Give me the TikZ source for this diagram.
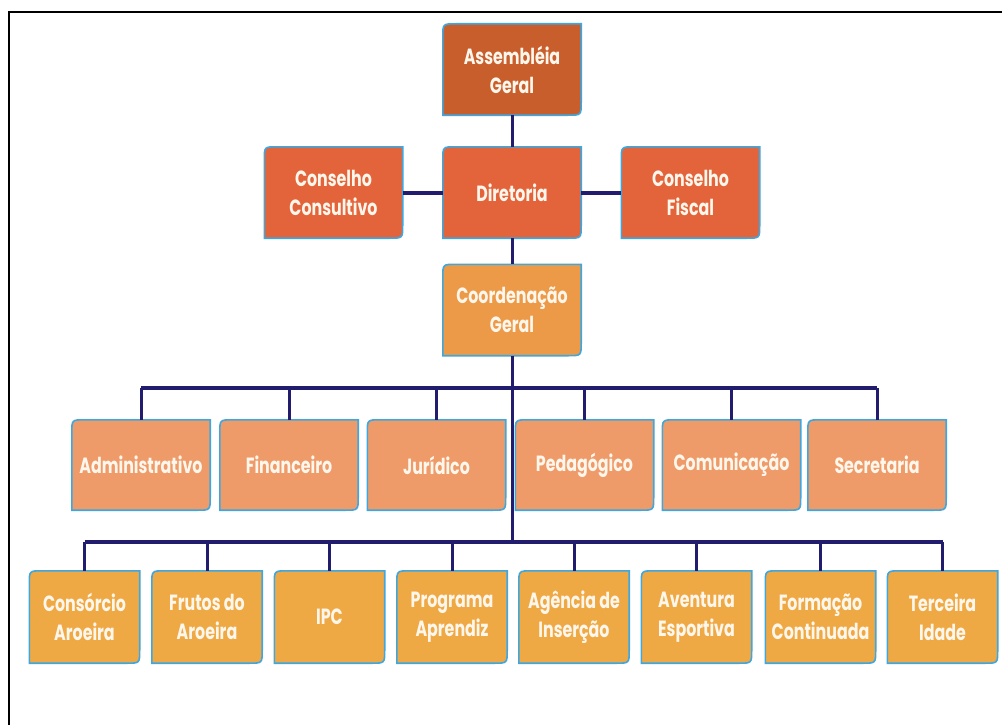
\documentclass[tikz,border=0pt]{standalone}
\usepackage{fontspec}
\newfontfamily\boxfont[FakeStretch=0.72]{Poppins}
\usetikzlibrary{calc}
\pgfdeclarelayer{background}
\pgfsetlayers{background,main}
\definecolor{cDark}{HTML}{C95E2D}
\definecolor{cRed}{HTML}{E3643A}
\definecolor{cOrange}{HTML}{EC9A47}
\definecolor{cSalmon}{HTML}{EE9B69}
\definecolor{cYellow}{HTML}{EFA944}
\definecolor{cEdge}{HTML}{3FA6DE}
\definecolor{cLine}{HTML}{221C6E}
\definecolor{cText}{HTML}{FFF6EC}
\tikzset{
  x=1pt, y=-1pt,
  orgtext/.style={inner sep=0pt, align=center, text=cText,
    font=\boxfont\bfseries\fontsize{22}{29}\selectfont},
  big/.style={orgtext, minimum width=138pt, minimum height=91pt},
  mid/.style={orgtext, minimum width=138pt, minimum height=90pt},
  small/.style={orgtext, minimum width=110pt, minimum height=92pt},
  conn/.style={draw=cLine, line width=3pt},
  bus/.style={draw=cLine, line width=4pt},
  frame/.style={draw=black, line width=2pt}
}
\newcommand{\boxbg}[2]{%
  \begin{pgfonlayer}{background}
  \filldraw[fill=#2, draw=cEdge, line width=1.6pt]
    ($(#1.north west)+(13,0)$) -- (#1.north east) -- ($(#1.south east)+(0,-13)$)
    .. controls (#1.south east) .. ($(#1.south east)+(-13,0)$)
    -- (#1.south west) -- ($(#1.north west)+(0,13)$)
    .. controls (#1.north west) .. ($(#1.north west)+(13,0)$) -- cycle;
  \end{pgfonlayer}}
\begin{document}
\begin{tikzpicture}
\useasboundingbox (0,0) rectangle (1002,725);
\begin{pgfonlayer}{background}
\fill[white] (0,0) rectangle (1002,725);
\end{pgfonlayer}
\draw[frame] (9,725) -- (9,12) -- (1002,12);

% level 1
\node[big] (ag) at (512,69.5) {Assembléia\\Geral};
\node[big] (cc) at (333.5,192.5) {Conselho\\Consultivo};
\node[big] (dir) at (512,192.5) {Diretoria};
\node[big] (cf) at (690.5,192.5) {Conselho\\Fiscal};
\node[big] (cg) at (512,310) {Coordenação\\Geral};
\boxbg{ag}{cDark}
\boxbg{cc}{cRed}
\boxbg{dir}{cRed}
\boxbg{cf}{cRed}
\boxbg{cg}{cOrange}

% level 3
\node[mid] (adm) at (141,465) {Administrativo};
\node[mid] (fin) at (289,465) {Financeiro};
\node[mid] (jur) at (436.5,465) {Jurídico};
\node[mid] (ped) at (584.5,465) {Pedagógico};
\node[mid] (com) at (731.5,465) {Comunicação};
\node[mid] (sec) at (877,465) {Secretaria};
\foreach \n in {adm,fin,jur,ped,com,sec}{\boxbg{\n}{cSalmon}}

% level 4
\node[small] (cons) at (84.5,617) {Consórcio\\Aroeira};
\node[small] (fru) at (207,617) {Frutos do\\Aroeira};
\node[small] (ipc) at (329.5,617) {IPC};
\node[small] (prog) at (452,617) {Programa\\Aprendiz};
\node[small] (ag2) at (574,617) {Agência de\\Inserção};
\node[small] (ave) at (696.5,617) {Aventura\\Esportiva};
\node[small] (form) at (820.5,617) {Formação\\Continuada};
\node[small] (ter) at (942.5,617) {Terceira\\Idade};
\foreach \n in {cons,fru,ipc,prog,ag2,ave,form,ter}{\boxbg{\n}{cYellow}}

% connectors
\coordinate (b1) at (512,388);
\coordinate (b2) at (512,542);
\draw[conn] (ag.south) -- (dir.north);
\draw[bus] (cc.east) -- (dir.west);
\draw[bus] (dir.east) -- (cf.west);
\draw[conn] (dir.south) -- (cg.north);
\draw[conn] (cg.south) -- (b2);
\draw[bus] (adm.north |- b1) -- (sec.north |- b1);
\foreach \n in {adm,fin,jur,ped,com,sec}{\draw[conn] (\n.north) -- (\n.north |- b1);}
\draw[bus] (cons.north |- b2) -- (ter.north |- b2);
\foreach \n in {cons,fru,ipc,prog,ag2,ave,form,ter}{\draw[conn] (\n.north) -- (\n.north |- b2);}
\end{tikzpicture}
\end{document}
